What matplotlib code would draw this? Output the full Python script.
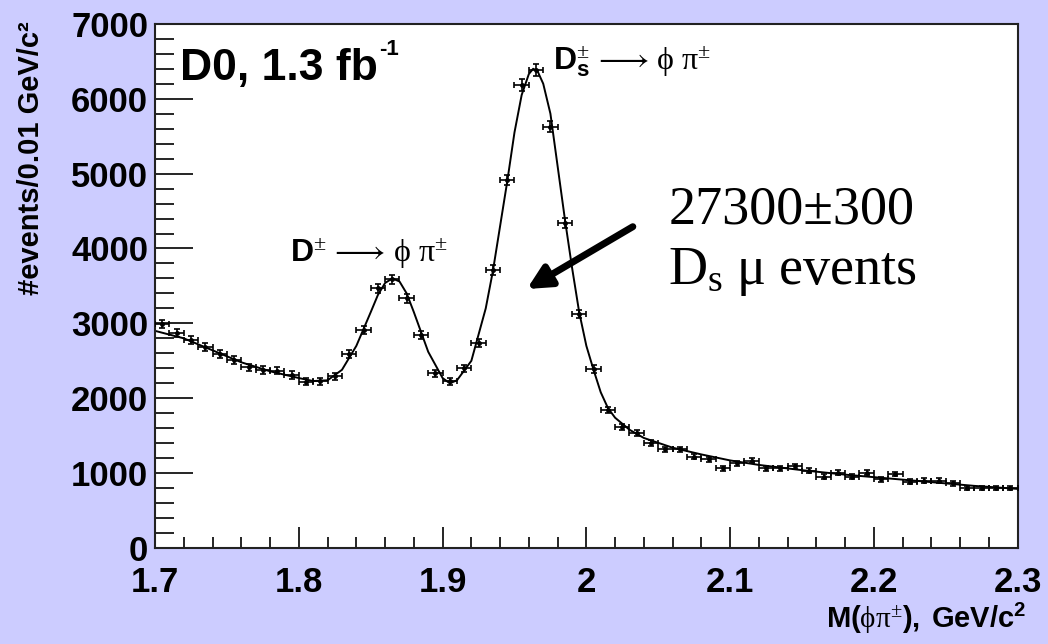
import numpy as np
import matplotlib
matplotlib.use('Agg')
import matplotlib.pyplot as plt
from matplotlib.ticker import MultipleLocator

# Fonts: bold sans for the ROOT style, serif for the annotation
plt.rcParams['font.family'] = ['Liberation Sans', 'DejaVu Sans']
plt.rcParams['mathtext.fontset'] = 'custom'
plt.rcParams['mathtext.rm'] = 'Liberation Serif'
plt.rcParams['mathtext.it'] = 'Liberation Serif:italic'
plt.rcParams['mathtext.bf'] = 'Liberation Sans:bold'

# Bin centres (0.01 GeV bins) and counts
mass = [1.705, 1.715, 1.725, 1.735, 1.745, 1.755, 1.765, 1.775, 1.785, 1.795,
        1.805, 1.815, 1.825, 1.835, 1.845, 1.855, 1.865, 1.875, 1.885, 1.895,
        1.905, 1.915, 1.925, 1.935, 1.945, 1.955, 1.965, 1.975, 1.985, 1.995,
        2.005, 2.015, 2.025, 2.035, 2.045, 2.055, 2.065, 2.075, 2.085, 2.095,
        2.105, 2.115, 2.125, 2.135, 2.145, 2.155, 2.165, 2.175, 2.185, 2.195,
        2.205, 2.215, 2.225, 2.235, 2.245, 2.255, 2.265, 2.275, 2.285, 2.295]
counts = [2990, 2866, 2777, 2680, 2590, 2510, 2413, 2376, 2367, 2310,
          2220, 2230, 2296, 2590, 2910, 3467, 3587, 3333, 2844, 2332,
          2230, 2400, 2741, 3712, 4913, 6182, 6382, 5625, 4335, 3124,
          2390, 1842, 1620, 1531, 1406, 1317, 1317, 1219, 1184, 1064,
          1130, 1165, 1064, 1064, 1095, 1032, 952, 1006, 952, 1006,
          917, 988, 886, 900, 900, 864, 806, 800, 800, 800]

# Fit curve
fit_x = [1.70, 1.72, 1.74, 1.76, 1.78, 1.80, 1.81, 1.82, 1.83, 1.84,
         1.85, 1.855, 1.86, 1.865, 1.87, 1.875, 1.88, 1.89, 1.90, 1.905,
         1.91, 1.92, 1.93, 1.935, 1.94, 1.945, 1.95, 1.955, 1.96, 1.963,
         1.966, 1.97, 1.975, 1.98, 1.985, 1.99, 1.995, 2.00, 2.005, 2.01,
         2.015, 2.02, 2.03, 2.04, 2.06, 2.08, 2.10, 2.12, 2.15, 2.18,
         2.21, 2.24, 2.27, 2.30]
fit_y = [2900, 2800, 2640, 2480, 2360, 2270, 2230, 2240, 2380, 2700,
         3150, 3380, 3540, 3600, 3560, 3400, 3150, 2620, 2270, 2200,
         2240, 2500, 3200, 3700, 4300, 4900, 5550, 6050, 6330, 6400,
         6370, 6200, 5800, 5100, 4400, 3750, 3150, 2700, 2380, 2080,
         1870, 1740, 1580, 1470, 1340, 1250, 1170, 1110, 1040, 980,
         930, 880, 830, 790]

bin_half = 0.005
errors = np.sqrt(counts)

fig = plt.figure(figsize=(10.48, 6.44), dpi=100, facecolor='#ccccff')
ax = fig.add_axes([0.148, 0.149, 0.823, 0.814])
ax.set_facecolor('white')

ax.plot(fit_x, fit_y, color='black', lw=1.4, zorder=2)
ax.errorbar(mass, counts, xerr=bin_half, yerr=errors, fmt='o', color='black',
            ms=2.5, elinewidth=1.2, capsize=2.5, capthick=1.2, zorder=3)

ax.set_xlim(1.7, 2.3)
ax.set_ylim(0, 7000)
ax.xaxis.set_minor_locator(MultipleLocator(0.02))
ax.yaxis.set_major_locator(MultipleLocator(1000))
ax.yaxis.set_minor_locator(MultipleLocator(200))
ax.set_xticks([1.7, 1.8, 1.9, 2.0, 2.1, 2.2, 2.3])
ax.set_xticklabels(['1.7', '1.8', '1.9', '2', '2.1', '2.2', '2.3'])

ax.tick_params(axis='both', which='both', direction='in', top=False, right=False,
               width=1.2, labelsize=25)
ax.tick_params(axis='y', which='major', length=27, pad=5)
ax.tick_params(axis='y', which='minor', length=14)
ax.tick_params(axis='x', which='major', length=15, pad=13)
ax.tick_params(axis='x', which='minor', length=8)
for lab in ax.get_xticklabels() + ax.get_yticklabels():
    lab.set_fontweight('bold')
for sp in ax.spines.values():
    sp.set_linewidth(1.5)
    sp.set_color('#222222')

ax.set_ylabel('#events/0.01 GeV/c²', fontsize=21, fontweight='bold', loc='top')
ax.yaxis.set_label_coords(-0.128, 1.005)
ax.set_xlabel(r'$\mathbf{M(}\mathrm{\phi\pi^{\pm}}\mathbf{),\ GeV/c^{2}}$',
              fontsize=21, loc='right')
ax.xaxis.set_label_coords(1.01, -0.1)

# Labels inside the frame
ax.text(1.717, 6250, 'D0, 1.3 fb', fontsize=32, fontweight='bold')
ax.text(1.856, 6800, '-1', fontsize=16, fontweight='bold', va='top')
ax.text(1.794, 3820,
        r'$\mathbf{D}^{\pm}\,\longrightarrow\,\mathrm{\phi}\ \mathrm{\pi}^{\pm}$',
        fontsize=23)
ax.text(1.977, 6390,
        r'$\mathbf{D}_{\mathbf{s}}^{\pm}\,\longrightarrow\,\mathrm{\phi}\ \mathrm{\pi}^{\pm}$',
        fontsize=23)

ax.text(2.057, 4330, '27300±300', fontsize=39, family='Liberation Serif')
ax.text(2.057, 3530, r'$\mathrm{D_s\ \mu\ events}$', fontsize=39)
ax.annotate('', xy=(1.957, 3440), xytext=(2.034, 4310),
            arrowprops=dict(arrowstyle='-|>,head_length=1.4,head_width=0.7',
                            color='black', lw=5))

fig.savefig('out.png', dpi=100, facecolor=fig.get_facecolor())
